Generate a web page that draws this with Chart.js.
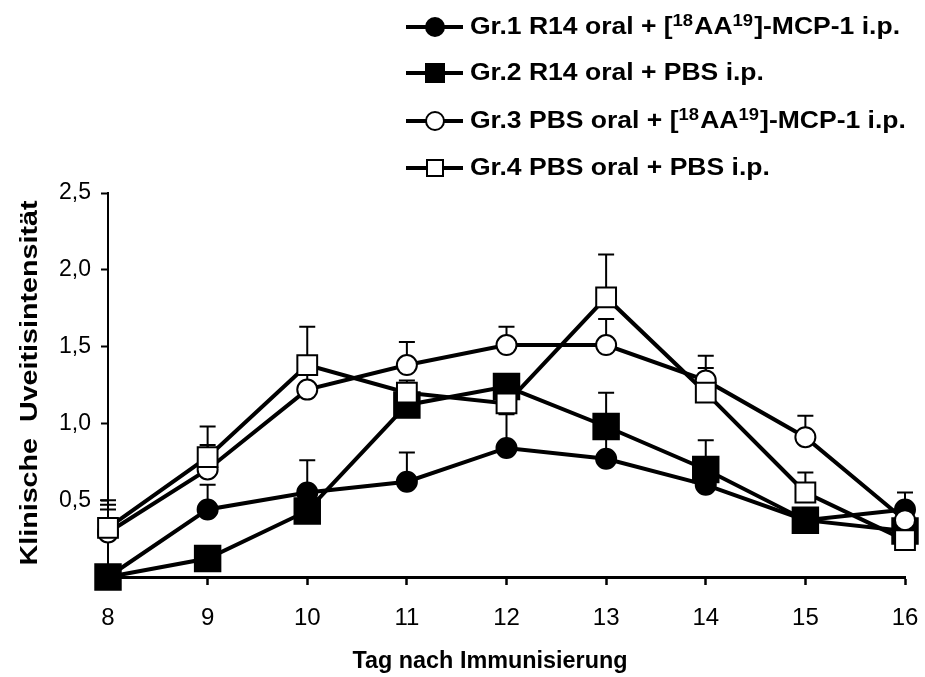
<!DOCTYPE html>
<html lang="de">
<head>
  <meta charset="UTF-8" />
  <title>Klinische Uveitisintensität</title>
  <script src="https://cdn.jsdelivr.net/npm/chart.js"></script>
  <style>
    html, body { margin: 0; padding: 0; background: #fff; }
    #wrap { position: relative; width: 925px; height: 677px; }
  </style>
</head>
<body>
  <div id="wrap"><canvas id="uveitisChart" width="925" height="677"></canvas></div>

  <script>
    // Tag nach Immunisierung
    const days = [8, 9, 10, 11, 12, 13, 14, 15, 16];

    // Mittelwerte je Gruppe
    const gr1 = [0, 0.44, 0.55, 0.62, 0.84, 0.77, 0.60, 0.37, 0.44];
    const gr2 = [0, 0.12, 0.43, 1.12, 1.24, 0.98, 0.70, 0.37, 0.30];
    const gr3 = [0.29, 0.70, 1.22, 1.38, 1.51, 1.51, 1.28, 0.91, 0.37];
    const gr4 = [0.32, 0.78, 1.38, 1.20, 1.13, 1.82, 1.20, 0.55, 0.24];

    // Fehlerbalken (nur nach oben)
    const gr1Err = [0.44, 0.16, 0.21, 0.19, 0.22, 0.20, 0.10, 0.05, 0.11];
    const gr2Err = [0, 0.05, 0.08, 0.08, 0.08, 0.22, 0.19, 0.05, 0.05];
    const gr3Err = [0.18, 0.16, 0.10, 0.15, 0.12, 0.17, 0.16, 0.14, 0.05];
    const gr4Err = [0.18, 0.20, 0.25, 0.08, 0.08, 0.28, 0.16, 0.13, 0.05];

    const yTicks = [0.5, 1.0, 1.5, 2.0, 2.5];

    const legendRows = [
      ['Gr.1 R14 oral + [', {sup: '18'}, 'AA', {sup: '19'}, ']-MCP-1 i.p.'],
      ['Gr.2 R14 oral + PBS i.p.'],
      ['Gr.3 PBS oral + [', {sup: '18'}, 'AA', {sup: '19'}, ']-MCP-1 i.p.'],
      ['Gr.4 PBS oral + PBS i.p.']
    ];

    const FONT = '"Liberation Sans", Arial, sans-serif';

    const toPoints = vals => vals.map((v, i) => ({x: days[i], y: v}));

    const styles = [
      {style: 'circle', r: 10, fill: '#000', lh: 9},
      {style: 'rect', r: 18, fill: '#000', lh: 9},
      {style: 'circle', r: 10, fill: '#fff', lh: 9},
      {style: 'rect', r: 14, fill: '#fff', lh: 8}
    ];
    const errs = [gr1Err, gr2Err, gr3Err, gr4Err];

    function makeSet(label, vals, i) {
      const s = styles[i];
      return {
        label: label,
        data: toPoints(vals),
        borderColor: '#000',
        borderWidth: 4,
        pointStyle: s.style,
        pointRadius: s.r,
        pointHoverRadius: s.r,
        pointBackgroundColor: s.fill,
        pointBorderColor: '#000',
        pointBorderWidth: 2,
        clip: false,
        order: 4 - i
      };
    }

    // Fehlerbalken unter den Linien zeichnen
    const errorBars = {
      id: 'errorBars',
      beforeDatasetsDraw(chart) {
        const ctx = chart.ctx;
        const y = chart.scales.y;
        ctx.save();
        ctx.strokeStyle = '#000';
        ctx.lineWidth = 2;
        errs.forEach((arr, di) => {
          const meta = chart.getDatasetMeta(di);
          meta.data.forEach((pt, j) => {
            if (!arr[j]) return;
            const top = y.getPixelForValue(meta._dataset.data[j].y + arr[j]);
            ctx.beginPath();
            ctx.moveTo(pt.x, pt.y);
            ctx.lineTo(pt.x, top);
            ctx.moveTo(pt.x - 8, top);
            ctx.lineTo(pt.x + 8, top);
            ctx.stroke();
          });
        });
        ctx.restore();
      }
    };

    // Breite eines Legendeneintrags messen
    function rowWidth(ctx, parts) {
      let w = 0;
      parts.forEach(p => {
        if (typeof p === 'string') { ctx.font = 'bold 23px ' + FONT; w += ctx.measureText(p).width; }
        else { ctx.font = 'bold 16px ' + FONT; w += ctx.measureText(p.sup).width + 1; }
      });
      return w;
    }

    // Legende mit hochgestellten Zahlen, Achsentitel
    const texts = {
      id: 'texts',
      afterDraw(chart) {
        const ctx = chart.ctx;
        const rowsY = [27, 73, 121, 168];
        ctx.save();
        const sx = 430 / rowWidth(ctx, legendRows[0]);
        legendRows.forEach((parts, i) => {
          const ly = rowsY[i];
          ctx.strokeStyle = '#000';
          ctx.lineWidth = 4;
          ctx.beginPath();
          ctx.moveTo(406, ly);
          ctx.lineTo(463, ly);
          ctx.stroke();
          const s = styles[i];
          ctx.fillStyle = s.fill;
          ctx.lineWidth = 2;
          ctx.beginPath();
          if (s.style === 'circle') ctx.arc(435, ly, s.lh, 0, Math.PI * 2);
          else ctx.rect(435 - s.lh, ly - s.lh, 2 * s.lh, 2 * s.lh);
          ctx.fill();
          ctx.stroke();

          ctx.save();
          ctx.translate(470, ly + 1);
          ctx.scale(sx, 1);
          let x = 0;
          ctx.fillStyle = '#000';
          ctx.textBaseline = 'middle';
          ctx.textAlign = 'left';
          parts.forEach(p => {
            if (typeof p === 'string') {
              ctx.font = 'bold 23px ' + FONT;
              ctx.fillText(p, x, 0);
              x += ctx.measureText(p).width;
            } else {
              ctx.font = 'bold 16px ' + FONT;
              ctx.fillText(p.sup, x, -6);
              x += ctx.measureText(p.sup).width + 1;
            }
          });
          ctx.restore();
        });

        ctx.fillStyle = '#000';
        ctx.textAlign = 'center';
        ctx.textBaseline = 'middle';

        // x-Achsentitel
        const xt = 'Tag nach Immunisierung';
        ctx.font = 'bold 23px ' + FONT;
        ctx.save();
        ctx.translate(490, 662);
        ctx.scale(275 / ctx.measureText(xt).width, 1);
        ctx.fillText(xt, 0, 0);
        ctx.restore();

        // y-Achsentitel
        const yt = 'Klinische  Uveitisintensität';
        ctx.font = 'bold 24px ' + FONT;
        ctx.save();
        ctx.translate(30, 383);
        ctx.rotate(-Math.PI / 2);
        ctx.scale(365 / ctx.measureText(yt).width, 1);
        ctx.fillText(yt, 0, 0);
        ctx.restore();
        ctx.restore();
      }
    };

    const ctx = document.getElementById('uveitisChart').getContext('2d');
    new Chart(ctx, {
      type: 'line',
      data: {
        datasets: [
          makeSet('Gr.1 R14 oral + [18AA19]-MCP-1 i.p.', gr1, 0),
          makeSet('Gr.2 R14 oral + PBS i.p.', gr2, 1),
          makeSet('Gr.3 PBS oral + [18AA19]-MCP-1 i.p.', gr3, 2),
          makeSet('Gr.4 PBS oral + PBS i.p.', gr4, 3)
        ]
      },
      options: {
        responsive: false,
        animation: false,
        layout: { padding: { left: 0, top: 193, right: 20, bottom: 0 } },
        plugins: {
          legend: { display: false },
          tooltip: { enabled: false }
        },
        scales: {
          x: {
            type: 'linear',
            min: 8,
            max: 16,
            afterFit: s => { s.height = 100; s.paddingLeft = 0; s.paddingRight = 0; },
            afterBuildTicks: s => { s.ticks = days.map(d => ({value: d})); },
            ticks: {
              color: '#000',
              padding: 19,
              font: { family: FONT, size: 24 }
            },
            grid: { drawOnChartArea: false, tickLength: 8, tickColor: '#000', tickWidth: 2.5 },
            border: { color: '#000', width: 3 }
          },
          y: {
            min: 0,
            max: 2.5,
            afterFit: s => { s.width = 108; s.paddingTop = 0; s.paddingBottom = 0; },
            afterBuildTicks: s => { s.ticks = [0].concat(yTicks).map(v => ({value: v})); },
            ticks: {
              color: '#000',
              padding: 10,
              font: { family: FONT, size: 23 },
              callback: v => v === 0 ? '' : v.toFixed(1).replace('.', ',')
            },
            grid: { drawOnChartArea: false, tickLength: 7, tickColor: '#000', tickWidth: 2 },
            border: { color: '#000', width: 2 }
          }
        }
      },
      plugins: [errorBars, texts]
    });
  </script>
</body>
</html>
